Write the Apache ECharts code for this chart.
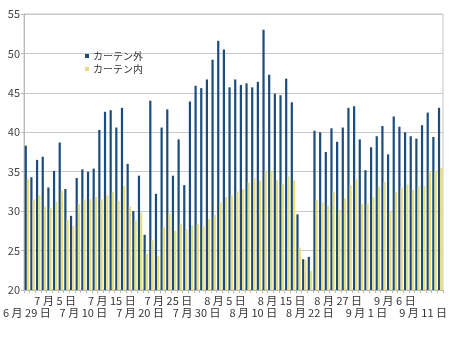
<!DOCTYPE html>
<html>
<head>
<meta charset="utf-8">
<script src="https://cdn.jsdelivr.net/npm/echarts@6/dist/echarts.min.js"></script>
<style>
  html, body { margin: 0; padding: 0; background: #ffffff; }
  #chart { width: 450px; height: 338px; }
</style>
</head>
<body>
<div id="chart"></div>
<script>
// Observation days (every 5th one is labelled on the axis)
const categories = [
  '6月29日','6月30日','7月1日','7月2日','7月4日','7月5日','7月6日','7月7日','7月8日','7月9日',
  '7月10日','7月11日','7月12日','7月13日','7月14日','7月15日','7月16日','7月17日','7月18日','7月19日',
  '7月20日','7月21日','7月22日','7月23日','7月24日','7月25日','7月26日','7月27日','7月28日','7月29日',
  '7月30日','7月31日','8月1日','8月2日','8月3日','8月5日','8月6日','8月7日','8月8日','8月9日',
  '8月10日','8月11日','8月12日','8月13日','8月14日','8月15日','8月16日','8月17日','8月18日','8月19日',
  '8月22日','8月23日','8月24日','8月25日','8月26日','8月27日','8月28日','8月29日','8月30日','8月31日',
  '9月1日','9月2日','9月3日','9月4日','9月5日','9月6日','9月7日','9月8日','9月9日','9月10日',
  '9月11日','9月12日','9月13日','9月14日'
];

// Temperature outside the curtain
const outside = [
  38.3, 34.3, 36.5, 36.9, 33.0, 35.1, 38.7, 32.8, 29.4, 34.2,
  35.3, 35.0, 35.4, 40.3, 42.6, 42.8, 40.6, 43.1, 36.0, 30.0,
  34.5, 27.0, 44.0, 32.2, 40.6, 42.9, 34.5, 39.1, 33.3, 43.9,
  45.9, 45.6, 46.7, 49.2, 51.6, 50.5, 45.7, 46.7, 46.0, 46.2,
  45.7, 46.4, 53.0, 47.3, 44.9, 44.7, 46.8, 43.8, 29.6, 23.9,
  24.2, 40.2, 40.0, 37.5, 40.5, 38.8, 40.6, 43.1, 43.3, 39.1,
  35.2, 38.1, 39.5, 40.8, 37.2, 42.0, 40.7, 40.0, 39.5, 39.2,
  40.9, 42.5, 39.4, 43.1
];

// Temperature inside the curtain
const inside = [
  34.1, 31.5, 32.0, 30.6, 30.4, 31.2, 32.6, 28.9, 28.1, 30.9,
  31.5, 31.5, 31.8, 31.5, 32.0, 32.4, 31.3, 33.2, 30.6, 28.9,
  29.8, 24.6, 26.3, 24.3, 28.0, 29.7, 27.5, 28.4, 27.7, 28.2,
  28.4, 28.1, 29.0, 29.5, 31.1, 31.8, 32.0, 32.5, 32.8, 33.6,
  34.2, 33.9, 35.1, 35.1, 33.9, 33.5, 34.4, 33.9, 25.4, 23.8,
  22.4, 31.4, 31.1, 30.7, 32.5, 30.2, 31.6, 33.3, 34.1, 30.9,
  31.0, 31.8, 33.1, 33.7, 30.0, 32.4, 33.0, 33.4, 32.7, 33.2,
  33.2, 35.1, 35.1, 35.5
];

const seriesNames = ['カーテン外', 'カーテン内'];
const yTicks = { min: 20, max: 55, step: 5 };
const labelEvery = 5;

const FONT = '"Noto Sans CJK JP", "DejaVu Sans", sans-serif';

// "7月10日" -> "7 月 10 日" (spaced out like the axis lettering)
function spaced(text) {
  return text.replace(/(\d+)月(\d+)日/, '$1 月 $2 日');
}

const labelBase = {
  fontSize: 11,
  lineHeight: 12,
  color: '#333',
  fontFamily: FONT,
  formatter: spaced
};

const chart = echarts.init(document.getElementById('chart'), null, { renderer: 'canvas' });

chart.setOption({
  animation: false,
  backgroundColor: '#ffffff',
  textStyle: { fontFamily: FONT },
  grid: {
    left: 24, right: 7, top: 14, bottom: 48,
    show: true, borderColor: '#c4c4c4', borderWidth: 1
  },
  legend: {
    orient: 'vertical',
    left: 80, top: 46,
    icon: 'rect',
    itemWidth: 4, itemHeight: 4, itemGap: 3,
    textStyle: { fontSize: 10, color: '#333', fontFamily: FONT, padding: [0, 0, 0, -1] },
    data: seriesNames
  },
  xAxis: [
    {
      // upper row of date labels: 7月5日, 7月15日, ...
      type: 'category',
      data: categories,
      boundaryGap: true,
      axisLine: { show: true, lineStyle: { color: '#b8b8b8' } },
      axisTick: { show: true, interval: 0, length: 3, lineStyle: { color: '#b8b8b8' } },
      axisLabel: Object.assign({}, labelBase, {
        margin: 5,
        interval: function (index) { return index % (labelEvery * 2) === labelEvery; }
      }),
      splitLine: { show: false }
    },
    {
      // lower row of date labels: 6月29日, 7月10日, ...
      type: 'category',
      data: categories,
      position: 'bottom',
      boundaryGap: true,
      axisLine: { show: false },
      axisTick: { show: false },
      axisLabel: Object.assign({}, labelBase, {
        margin: 17,
        interval: function (index) { return index % (labelEvery * 2) === 0; }
      }),
      splitLine: { show: false }
    }
  ],
  yAxis: {
    type: 'value',
    min: yTicks.min, max: yTicks.max, interval: yTicks.step,
    axisLine: { show: true, lineStyle: { color: '#b8b8b8' } },
    axisTick: { show: true, length: 3, lineStyle: { color: '#b8b8b8' } },
    axisLabel: { fontSize: 11, color: '#444', margin: 4, fontFamily: FONT },
    splitLine: { show: true, lineStyle: { color: '#c8c8c8' } }
  },
  series: [
    {
      name: seriesNames[0],
      type: 'bar',
      xAxisIndex: 0,
      data: outside,
      barGap: '0%',
      barCategoryGap: '22%',
      itemStyle: { color: '#1b4c7e' }
    },
    {
      name: seriesNames[1],
      type: 'bar',
      xAxisIndex: 0,
      data: inside,
      barGap: '0%',
      barCategoryGap: '22%',
      itemStyle: { color: '#ebdd78' }
    }
  ]
});
</script>
</body>
</html>
